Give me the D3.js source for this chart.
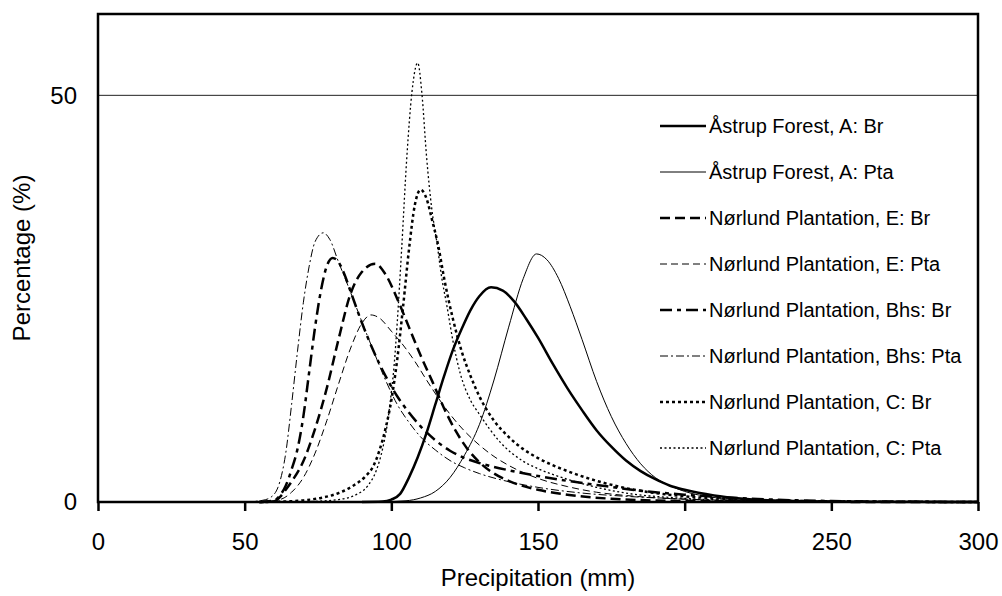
<!DOCTYPE html>
<meta charset="utf-8">
<style>
body { margin: 0; background: #fff; }
svg text { font-family: Arial, "Liberation Sans", sans-serif; fill: #000; }
.axis path { display: none; }
.axis line { stroke: #000; stroke-width: 2.5; }
.axis text { font-size: 24px; }
.legend text { font-size: 20px; }
</style>
<body>
<script src="https://cdn.jsdelivr.net/npm/d3@7"></script>
<script>

// values: [precipitation mm, percentage]
var astrupBr = [[90,0],[97,0.05],[100,0.3],[103,1],[106,3],[109,5.5],[112,8.5],[115,12],[118,15.5],[121,18.7],[124,21.3],[127,23.6],[130,25.3],[134,26.4],[138,26],[142,24.6],[146,22.5],[150,20.2],[155,17],[160,14],[165,11.3],[170,8.8],[175,6.8],[180,5.1],[185,3.8],[190,2.8],[195,2],[200,1.5],[210,0.8],[220,0.4],[235,0.15],[260,0.04],[300,0]];
var astrupPta = [[95,0],[105,0.15],[110,0.5],[115,1.3],[120,3],[125,5.8],[130,9.5],[135,15],[140,21.5],[145,27.5],[149.5,30.5],[153,29.8],[157,27.5],[161,24],[165,20],[170,14.8],[175,10.5],[180,7.2],[185,4.7],[190,3],[195,2],[200,1.3],[210,0.55],[220,0.22],[240,0.05],[300,0]];
var norlundEBr = [[55,0],[60,0.1],[62,0.6],[64,1.5],[66,2.5],[70,5],[74,9],[78,14],[82,20],[86,25.5],[90,28.3],[94.5,29.3],[98,28],[102,25],[106,21.5],[110,18],[114,14.8],[118,11.5],[122,8.7],[126,6.5],[130,4.9],[135,3.5],[140,2.6],[150,1.5],[160,0.9],[175,0.4],[200,0.12],[250,0.02],[300,0]];
var norlundEPta = [[55,0],[62,0.3],[66,1.2],[70,3],[74,6],[78,10],[82,14.5],[86,18.8],[90,22],[93,23],[96,22.6],[100,21],[104,19.3],[108,17.3],[112,15],[116,12.8],[120,10.8],[125,8.7],[130,7],[135,5.6],[140,4.5],[150,2.9],[160,1.9],[170,1.2],[180,0.8],[200,0.35],[230,0.1],[300,0]];
var norlundBhsBr = [[55,0],[60,0.2],[62,0.8],[64,2],[66,4],[68,6.5],[70,10.5],[72,16],[74,21.5],[76,26],[78,29],[80,30],[82,29.5],[84,28],[86,26],[90,22],[94,18.5],[98,15.5],[102,13],[106,11],[110,9.3],[115,7.6],[120,6.3],[125,5.4],[130,4.8],[140,3.9],[150,3.2],[160,2.6],[170,2.1],[180,1.6],[190,1.2],[200,0.9],[220,0.45],[250,0.12],[300,0]];
var norlundBhsPta = [[50,0],[56,0.2],[59,0.6],[62,2.5],[64,6],[66,12],[68,18.5],[70,24.5],[72,29],[74,32],[76.8,33.1],[79,32.3],[82,29.5],[85,26.8],[88,24],[91,21.2],[94,18.5],[98,15],[102,12],[106,9.8],[110,8],[115,6.4],[120,5.1],[125,4.2],[130,3.5],[140,2.5],[150,1.8],[165,1.1],[180,0.7],[200,0.35],[230,0.12],[300,0]];
var norlundCBr = [[55,0],[62,0.05],[70,0.2],[76,0.5],[82,1.1],[87,2],[91,3.1],[94,4.5],[96,6.4],[98,9],[100,12.5],[102,17.5],[104,24],[106,31],[108,36.5],[110,38.4],[112,37.3],[114,34.5],[116,31.5],[118,27.5],[121,22.5],[124,18.5],[127,15.5],[130,13],[135,10],[140,8],[145,6.5],[150,5.4],[160,3.8],[170,2.6],[180,1.7],[190,1.1],[200,0.7],[220,0.3],[250,0.08],[300,0]];
var norlundCPta = [[65,0],[75,0.1],[82,0.3],[88,0.9],[92,2],[95,4],[97,6.5],[98.5,9.3],[100,13.5],[101,17],[102,22],[103.5,31],[105.3,42.5],[107,50.3],[109,54],[110.4,50.3],[112,42.5],[113.8,36],[115.5,32],[117,28],[119,24],[121,19.8],[123.5,15.8],[127,12.5],[130,10.8],[137,7.4],[145,5],[150,4.1],[160,2.8],[170,1.8],[180,1.1],[200,0.45],[230,0.12],[300,0]];

var seriesNames = ["Åstrup Forest, A: Br", "Åstrup Forest, A: Pta",
  "Nørlund Plantation, E: Br", "Nørlund Plantation, E: Pta",
  "Nørlund Plantation, Bhs: Br", "Nørlund Plantation, Bhs: Pta",
  "Nørlund Plantation, C: Br", "Nørlund Plantation, C: Pta"];
var seriesValues = [astrupBr, astrupPta, norlundEBr, norlundEPta,
  norlundBhsBr, norlundBhsPta, norlundCBr, norlundCPta];
var xTicks = [0, 50, 100, 150, 200, 250, 300];
var yTicks = [0, 50];

// line look for each series, same order
var widths = [2.5, 1, 2.5, 1, 2.5, 1, 2.5, 1.3];
var dashes = [null, null, "10,5", "7,4", "12,5,4,5", "8,3,2,3", "3,3", "2,2.5"];

var plot = {left: 98, top: 14, right: 978, bottom: 502};

var svg = d3.select("body").append("svg")
    .attr("width", 1002)
    .attr("height", 596);

var x = d3.scaleLinear().domain([0, 300]).range([plot.left, plot.right]);
var y = d3.scaleLinear().domain([0, 60]).range([plot.bottom, plot.top]);

// gridline at 50
svg.append("line")
    .attr("x1", plot.left).attr("x2", plot.right)
    .attr("y1", y(50)).attr("y2", y(50))
    .attr("stroke", "#222").attr("stroke-width", 1);

var line = d3.line()
    .x(function(d) { return x(d[0]); })
    .y(function(d) { return y(d[1]); })
    .curve(d3.curveMonotoneX);

svg.append("g").selectAll("path")
    .data(seriesValues)
  .enter().append("path")
    .attr("d", line)
    .attr("fill", "none")
    .attr("stroke", "#000")
    .attr("stroke-width", function(d, i) { return widths[i]; })
    .attr("stroke-dasharray", function(d, i) { return dashes[i]; });

// frame
svg.append("rect")
    .attr("x", plot.left).attr("y", plot.top)
    .attr("width", plot.right - plot.left).attr("height", plot.bottom - plot.top)
    .attr("fill", "none").attr("stroke", "#000").attr("stroke-width", 2.5);

svg.append("g")
    .attr("class", "axis")
    .attr("transform", "translate(0," + plot.bottom + ")")
    .call(d3.axisBottom(x).tickValues(xTicks).tickSize(9).tickPadding(22));

svg.append("g")
    .attr("class", "axis")
    .attr("transform", "translate(" + plot.left + ",0)")
    .call(d3.axisLeft(y).tickValues(yTicks).tickSize(0).tickPadding(21));

svg.append("text")
    .attr("x", (plot.left + plot.right) / 2)
    .attr("y", 586)
    .style("text-anchor", "middle")
    .style("font-size", "24px")
    .text("Precipitation (mm)");

svg.append("text")
    .attr("transform", "translate(30," + (plot.top + plot.bottom) / 2 + ") rotate(-90)")
    .style("text-anchor", "middle")
    .style("font-size", "24px")
    .text("Percentage (%)");

// legend
var legend = svg.append("g").attr("class", "legend")
  .selectAll("g")
    .data(seriesNames)
  .enter().append("g")
    .attr("transform", function(d, i) { return "translate(660," + (126 + i * 46) + ")"; });

legend.append("line")
    .attr("x1", 0).attr("x2", 46)
    .attr("stroke", "#000")
    .attr("stroke-width", function(d, i) { return widths[i]; })
    .attr("stroke-dasharray", function(d, i) { return dashes[i]; });

legend.append("text")
    .attr("x", 49)
    .attr("dy", "0.35em")
    .text(function(d) { return d; });

</script>
</body>
